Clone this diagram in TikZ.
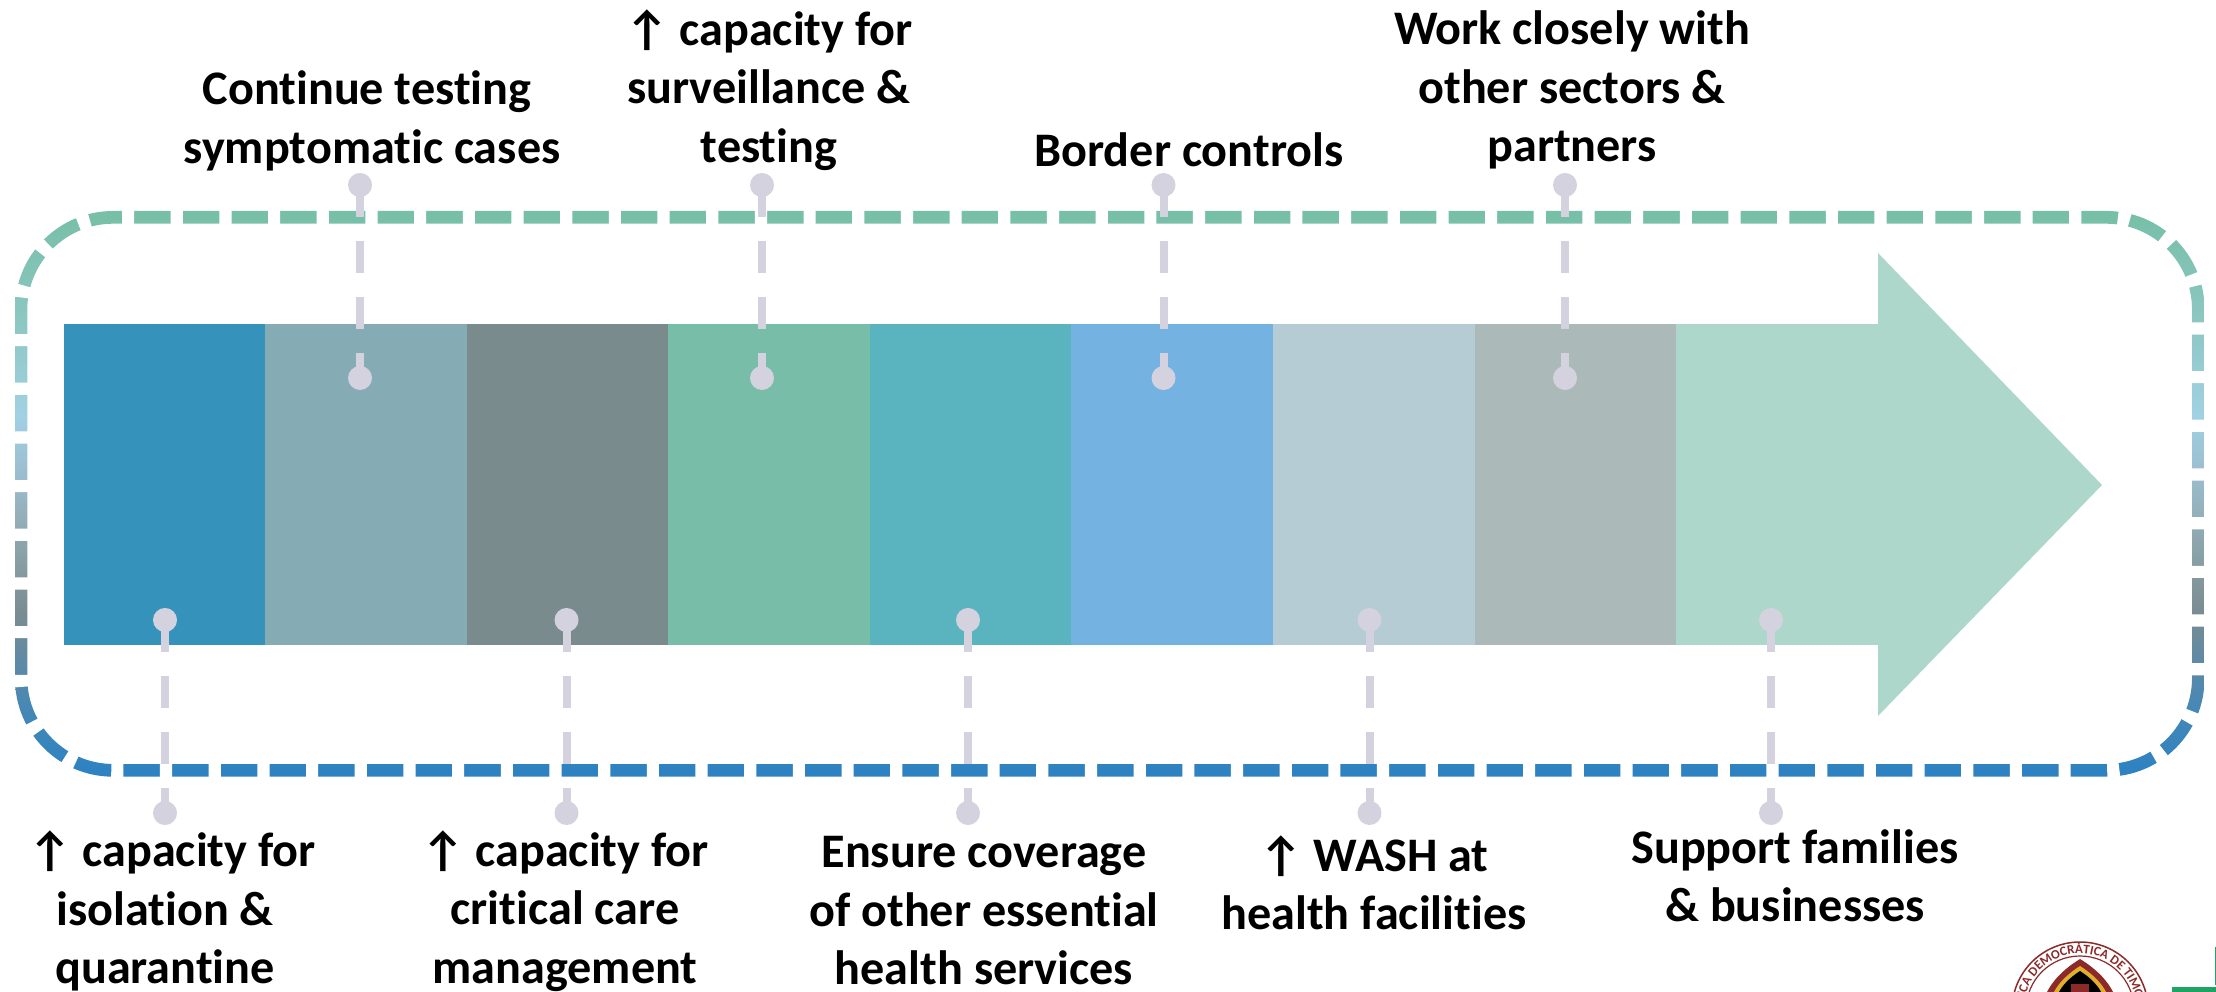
\documentclass[tikz,border=0pt]{standalone}
\usepackage{fontspec}
\setmainfont[Ligatures=CommonOff]{Carlito}
\usetikzlibrary{decorations.text}

\definecolor{dotgrey}{HTML}{D3D2DE}
\definecolor{sealred}{HTML}{8C2A2A}
\definecolor{sealgold}{HTML}{E3AE2B}
\definecolor{logogreen}{HTML}{1FA463}

\pgfdeclareverticalshading{frameshade}{100bp}{
  rgb(0bp)=(0.18,0.51,0.76);
  rgb(25.5bp)=(0.18,0.51,0.76);
  rgb(30.3bp)=(0.26,0.53,0.72);
  rgb(35.25bp)=(0.37,0.54,0.65);
  rgb(39.6bp)=(0.48,0.55,0.57);
  rgb(43.95bp)=(0.53,0.62,0.64);
  rgb(48.2bp)=(0.58,0.69,0.73);
  rgb(52.35bp)=(0.61,0.75,0.82);
  rgb(56.95bp)=(0.63,0.82,0.89);
  rgb(65.35bp)=(0.55,0.78,0.76);
  rgb(74.45bp)=(0.47,0.75,0.66);
  rgb(100bp)=(0.47,0.75,0.66)}

\tikzset{
  segbox/.style={minimum width=2.02cm, minimum height=3.21cm, inner sep=0pt, outer sep=0pt},
  dotmark/.style={circle, fill=dotgrey, minimum size=0.24cm, inner sep=0pt},
  linkline/.style={dotgrey, line width=0.08cm, dash pattern=on 0.32cm off 0.24cm},
  labeltext/.style={align=center, inner sep=0pt, text=black,
    font=\fontsize{13.7}{16.63}\selectfont\bfseries},
  framegap/.style={white, line width=0.15cm, dash pattern=on 0.1215cm off 0.365cm}
}

\begin{document}
\begin{tikzpicture}[x=0.01cm, y=-0.01cm]
    \useasboundingbox (0,0) rectangle (2216,992);

    % Frame round the arrow
    \shade[shading=frameshade, even odd rule]
        [rounded corners=0.98cm] (15,211) rectangle (2204.5,776.7)
        [rounded corners=0.86cm] (27.3,223.7) rectangle (2192,764);
    \draw[framegap, rounded corners=0.92cm] (122,217) -- (2198,217) -- (2198,770) -- (21,770) -- (21,217) -- (122,217);

    % Arrow bar and head
    \foreach \n/\c in {1/3593BB, 2/85ABB5, 3/7A8B8E, 4/77BDA7, 5/5AB4C0, 6/74B2E2, 7/B5CCD4, 8/ACB9B9, 9/AED7CB} {
        \definecolor{segcol}{HTML}{\c}
        \node[segbox, fill=segcol] (seg\n) at ({64+201.55*(\n-0.5)},484.5) {};
    }
    \definecolor{headcol}{HTML}{AED7CB}
    \fill[headcol] (1878,253) -- (2102,485) -- (1878,716) -- cycle;

    % Upper links
    \foreach \n/\x in {1/360, 2/762, 3/1163.5, 4/1565} {
        \node[dotmark] (upA\n) at (\x,185) {};
        \node[dotmark] (upB\n) at (\x,378) {};
        \draw[linkline] (upA\n.center) -- (upB\n.center);
    }

    % Lower links
    \foreach \n/\x in {1/165, 2/566.5, 3/968, 4/1369.5, 5/1771} {
        \node[dotmark] (lowA\n) at (\x,620) {};
        \node[dotmark] (lowB\n) at (\x,813) {};
        \draw[linkline] (lowA\n.center) -- (lowB\n.center);
    }

    % Upper labels
    \node[labeltext] (testing) at (372,121) {Continue testing\hspace*{0.1cm}\\symptomatic cases};
    \node[labeltext] (surveillance) at (769,90) {↑ capacity for\\surveillance \&\\testing};
    \node[labeltext] (border) at (1189,150) {Border controls};
    \node[labeltext] (sectors) at (1572,90) {Work closely with\\other sectors \&\\partners};

    % Lower labels
    \node[labeltext] (isolation) at (165,911) {\hspace*{0.14cm}↑ capacity for\\isolation \&\hspace*{0.12cm}\\quarantine};
    \node[labeltext] (critical) at (565,911) {↑ capacity for\\critical care\hspace*{0.12cm}\\management};
    \node[labeltext] (coverage) at (984,911) {Ensure coverage\\of other essential\\health services};
    \node[labeltext] (wash) at (1374,883) {↑ WASH at\\health facilities};
    \node[labeltext] (families) at (1795,876) {Support families\\\& businesses};

    % Seal and logo, cut by the page edge
    \begin{scope}
        \clip (0,0) rectangle (2216,992);
        \draw[sealred, line width=0.015cm] (2080,1010) circle (68);
        \draw[sealred, line width=0.012cm] (2080,1010) circle (54);
        \path[decorate, decoration={text along path, text align=center,
            text={|\fontsize{3.7}{4}\selectfont\bfseries\color{sealred}|LICA DEMOCRÁTICA DE TIMOR}}]
            (2080,1010) ++(-160:56.5) arc (-160:-15:56.5);
        \fill[sealred] (2080,959) .. controls (2098,970) and (2108,982) .. (2113,992) -- (2047,992) .. controls (2052,982) and (2062,970) .. (2080,959);
        \fill[sealgold] (2080,966) .. controls (2094,975) and (2102,984) .. (2106,992) -- (2054,992) .. controls (2058,984) and (2066,975) .. (2080,966);
        \fill[black] (2080,971) .. controls (2091,978) and (2098,986) .. (2101,992) -- (2059,992) .. controls (2062,986) and (2069,978) .. (2080,971);
        \fill[sealred] (2071,984) rectangle (2089,992);
        \fill[logogreen] (2172,987) rectangle (2216,992);
        \fill[logogreen] (2214.5,947) rectangle (2216,985);
    \end{scope}
\end{tikzpicture}
\end{document}
